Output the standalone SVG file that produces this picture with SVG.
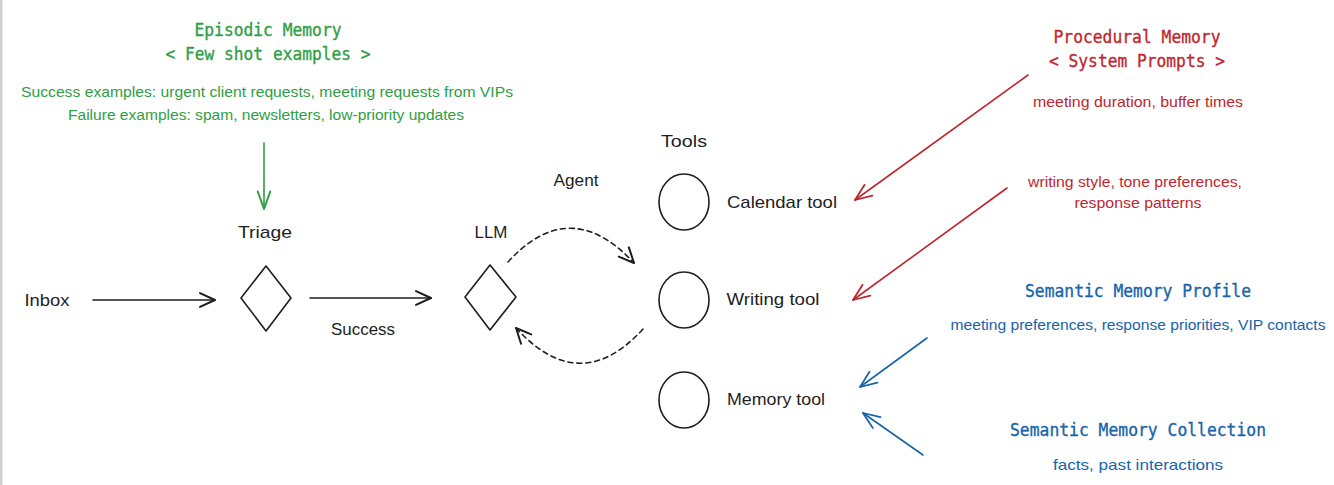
<svg xmlns="http://www.w3.org/2000/svg" width="1334" height="485" viewBox="0 0 1334 485">
<defs>
<style>
.mono{font-family:"DejaVu Sans Mono","Liberation Mono",monospace;font-size:18px;text-anchor:middle;stroke-width:0.35}
.hand{font-family:"Liberation Sans","Open Sans",sans-serif;text-anchor:middle}
.lbl{font-size:17px;fill:#1e1e1e}
.note{font-size:14.5px}
.g{fill:#2f9e44}
.mono.g{stroke:#2f9e44}
.r{fill:#c0262d}
.mono.r{stroke:#c0262d}
.b{fill:#1864ab}
.mono.b{stroke:#1864ab}
.shape{fill:none;stroke:#1e1e1e;stroke-width:1.6;stroke-linejoin:round}
.edge{fill:none;stroke-width:1.6;stroke-linecap:round}
</style>
<marker id="ak" markerUnits="userSpaceOnUse" markerWidth="20" markerHeight="20" refX="0" refY="0" viewBox="-14 -8 16 16" orient="auto" overflow="visible"><path d="M-12,-5.5 L0,0 L-12,5.5" fill="none" stroke="#1e1e1e" stroke-width="1.6" stroke-linecap="round" stroke-linejoin="round"/></marker>
<marker id="ag" markerUnits="userSpaceOnUse" markerWidth="20" markerHeight="20" refX="0" refY="0" viewBox="-14 -8 16 16" orient="auto" overflow="visible"><path d="M-14,-5 L0,0 L-14,5" fill="none" stroke="#2f9e44" stroke-width="1.6" stroke-linecap="round" stroke-linejoin="round"/></marker>
<marker id="ar" markerUnits="userSpaceOnUse" markerWidth="20" markerHeight="20" refX="0" refY="0" viewBox="-16 -8 18 16" orient="auto" overflow="visible"><path d="M-15,-6 L0,0 L-15,6" fill="none" stroke="#c0262d" stroke-width="1.6" stroke-linecap="round" stroke-linejoin="round"/></marker>
<marker id="ab" markerUnits="userSpaceOnUse" markerWidth="20" markerHeight="20" refX="0" refY="0" viewBox="-16 -8 18 16" orient="auto" overflow="visible"><path d="M-15,-6 L0,0 L-15,6" fill="none" stroke="#1864ab" stroke-width="1.6" stroke-linecap="round" stroke-linejoin="round"/></marker>
</defs>
<rect x="0" y="0" width="1334" height="485" fill="#ffffff"/>
<rect x="0" y="0" width="2.5" height="485" fill="#cfcfcf"/>

<g id="episodic-memory">
<text class="mono g" x="268" y="36" textLength="147" lengthAdjust="spacingAndGlyphs">Episodic Memory</text>
<text class="mono g" x="268" y="60" textLength="205" lengthAdjust="spacingAndGlyphs">&lt; Few shot examples &gt;</text>
<text class="hand note g" x="267" y="97" textLength="492" lengthAdjust="spacingAndGlyphs">Success examples: urgent client requests, meeting requests from VIPs</text>
<text class="hand note g" x="266" y="120" textLength="396" lengthAdjust="spacingAndGlyphs">Failure examples: spam, newsletters, low-priority updates</text>
</g>

<g id="inbox">
<text class="hand lbl" x="47" y="306" textLength="45" lengthAdjust="spacingAndGlyphs">Inbox</text>
</g>

<g id="triage">
<text class="hand lbl" x="265" y="238" textLength="54" lengthAdjust="spacingAndGlyphs">Triage</text>
<path class="shape" d="M266,266 L291,298 L266,331 L241,298 Z"/>
</g>

<g id="llm">
<text class="hand lbl" x="491" y="238" textLength="33" lengthAdjust="spacingAndGlyphs">LLM</text>
<path class="shape" d="M490,265 L516,297 L490,330 L465,297 Z"/>
</g>

<g id="agent">
<text class="hand lbl" x="576" y="186" textLength="45" lengthAdjust="spacingAndGlyphs">Agent</text>
</g>

<g id="tools">
<text class="hand lbl" x="684" y="147" textLength="46" lengthAdjust="spacingAndGlyphs">Tools</text>
</g>

<g id="calendar-tool">
<ellipse class="shape" cx="684" cy="202" rx="25" ry="28"/>
<text class="hand lbl" x="782" y="208" textLength="110" lengthAdjust="spacingAndGlyphs">Calendar tool</text>
</g>

<g id="writing-tool">
<ellipse class="shape" cx="684" cy="300" rx="25" ry="28"/>
<text class="hand lbl" x="773" y="305" textLength="93" lengthAdjust="spacingAndGlyphs">Writing tool</text>
</g>

<g id="memory-tool">
<ellipse class="shape" cx="684" cy="400" rx="25" ry="28"/>
<text class="hand lbl" x="776" y="405" textLength="98" lengthAdjust="spacingAndGlyphs">Memory tool</text>
</g>

<g id="procedural-memory">
<text class="mono r" x="1137" y="43" textLength="167" lengthAdjust="spacingAndGlyphs">Procedural Memory</text>
<text class="mono r" x="1137" y="67" textLength="176" lengthAdjust="spacingAndGlyphs">&lt; System Prompts &gt;</text>
<text class="hand note r" x="1138" y="107" textLength="210" lengthAdjust="spacingAndGlyphs">meeting duration, buffer times</text>
<text class="hand note r" x="1135" y="187" textLength="214" lengthAdjust="spacingAndGlyphs">writing style, tone preferences,</text>
<text class="hand note r" x="1138" y="208" textLength="127" lengthAdjust="spacingAndGlyphs">response patterns</text>
</g>

<g id="semantic-memory-profile">
<text class="mono b" x="1138" y="297" textLength="226" lengthAdjust="spacingAndGlyphs">Semantic Memory Profile</text>
<text class="hand note b" x="1138" y="330" textLength="375" lengthAdjust="spacingAndGlyphs">meeting preferences, response priorities, VIP contacts</text>
</g>

<g id="semantic-memory-collection">
<text class="mono b" x="1138" y="436" textLength="256" lengthAdjust="spacingAndGlyphs">Semantic Memory Collection</text>
<text class="hand note b" x="1138" y="470" textLength="170" lengthAdjust="spacingAndGlyphs">facts, past interactions</text>
</g>

<g id="connectors">
<path class="edge" stroke="#2f9e44" d="M264,143 L264,209" marker-end="url(#ag)"/>
<path class="edge" stroke="#1e1e1e" d="M93,300 L215,300" marker-end="url(#ak)"/>
<text class="hand lbl" x="363" y="335" textLength="64" lengthAdjust="spacingAndGlyphs">Success</text>
<path class="edge" stroke="#1e1e1e" d="M310,298 L431,298" marker-end="url(#ak)"/>
<path class="edge" stroke="#1e1e1e" stroke-dasharray="5 4" d="M508,262 Q570,194 634,263" marker-end="url(#ak)"/>
<path class="edge" stroke="#1e1e1e" stroke-dasharray="5 4" d="M643,329 Q580,398 516,328" marker-end="url(#ak)"/>
<path class="edge" stroke="#c0262d" d="M1028,75 L855,200" marker-end="url(#ar)"/>
<path class="edge" stroke="#c0262d" d="M1007,188 L853,300" marker-end="url(#ar)"/>
<path class="edge" stroke="#1864ab" d="M927,338 L860,387" marker-end="url(#ab)"/>
<path class="edge" stroke="#1864ab" d="M923,455 L863,413" marker-end="url(#ab)"/>
</g>
</svg>
